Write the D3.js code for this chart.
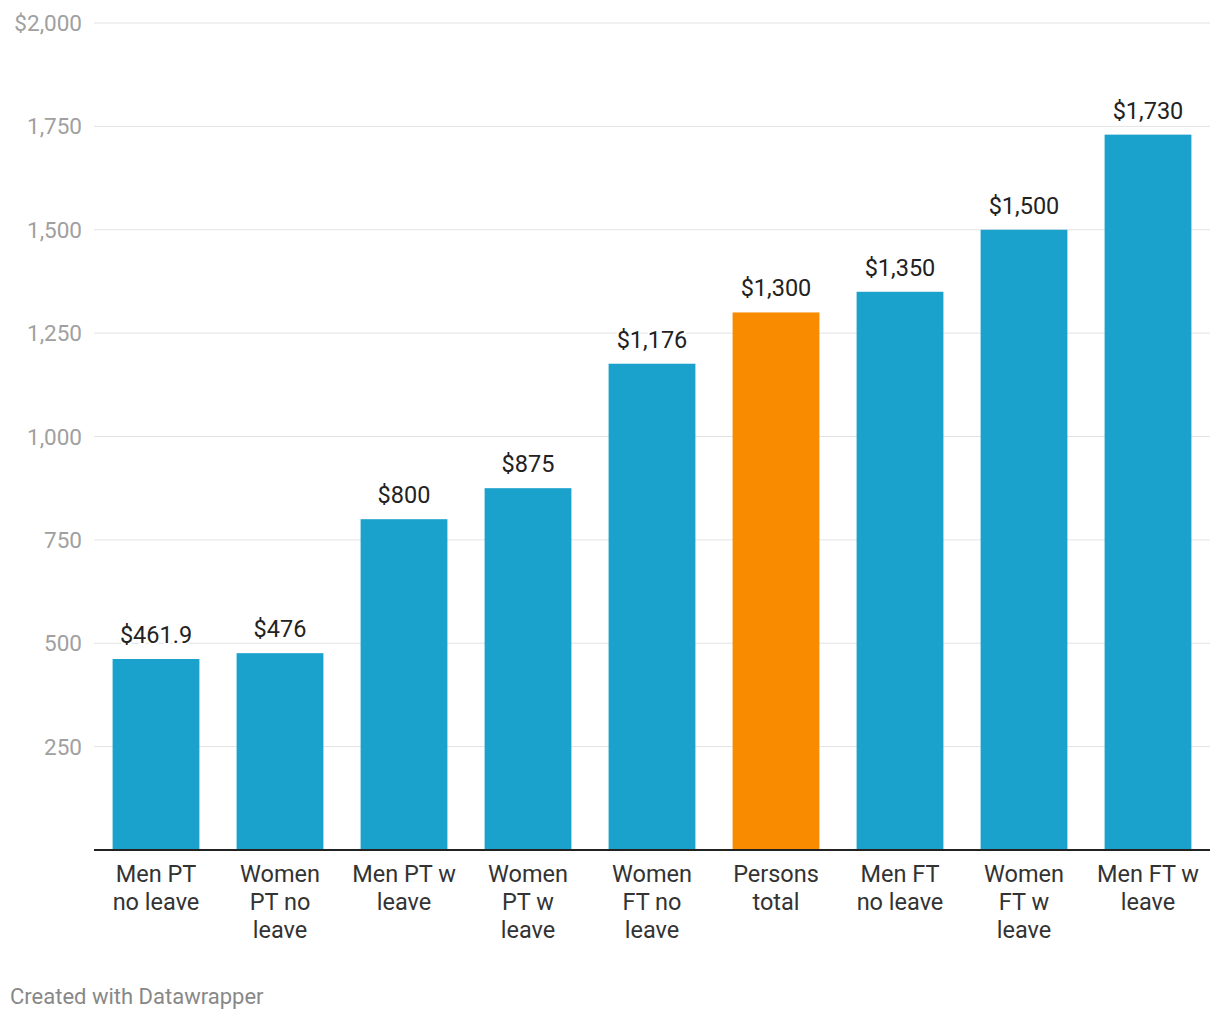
<!DOCTYPE html>
<html><head><meta charset="utf-8">
<script src="https://cdn.jsdelivr.net/npm/d3@7"></script>
<style>body{margin:0;background:#fff;font-family:Roboto,sans-serif;}</style>
</head><body>
<svg id="chart" width="1220" height="1020"></svg>
<script>
const categories = [["Men PT","no leave"],["Women","PT no","leave"],["Men PT w","leave"],["Women","PT w","leave"],["Women","FT no","leave"],["Persons","total"],["Men FT","no leave"],["Women","FT w","leave"],["Men FT w","leave"]];
const values = [461.9, 476, 800, 875, 1176, 1300, 1350, 1500, 1730];
const valueLabels = ["$461.9","$476","$800","$875","$1,176","$1,300","$1,350","$1,500","$1,730"];
const highlight = [false,false,false,false,false,true,false,false,false];
const yTicks = [0,250,500,750,1000,1250,1500,1750,2000];
const yTickLabels = ["","250","500","750","1,000","1,250","1,500","1,750","$2,000"];

(function(){
const svg = d3.select("#chart");
const mLeft = 94, mRight = 1210, mTop = 23, mBottom = 850;
const x = d3.scaleBand().domain(d3.range(values.length)).range([mLeft, mRight]).paddingInner(0.3).paddingOuter(0.15);
const y = d3.scaleLinear().domain([0, 2000]).range([mBottom, mTop]);

svg.append("g").selectAll("line").data(yTicks.slice(1)).join("line")
  .attr("x1", mLeft).attr("x2", mRight)
  .attr("y1", d => y(d)).attr("y2", d => y(d))
  .attr("stroke", "#e3e3e3").attr("stroke-width", 1);

svg.append("g").selectAll("text").data(yTicks.slice(1)).join("text")
  .attr("x", 82).attr("y", d => y(d) + 8)
  .attr("text-anchor", "end").attr("font-size", 22.5).attr("fill", "#a0a0a0")
  .text((d, i) => yTickLabels[i + 1]);

svg.append("g").selectAll("rect").data(values).join("rect")
  .attr("x", (d, i) => x(i)).attr("width", x.bandwidth())
  .attr("y", d => y(d)).attr("height", d => mBottom - y(d))
  .attr("fill", (d, i) => highlight[i] ? "#f88b00" : "#1aa1cc");

svg.append("g").selectAll("text").data(values).join("text")
  .attr("x", (d, i) => x(i) + x.bandwidth() / 2).attr("y", d => y(d) - 16)
  .attr("text-anchor", "middle").attr("font-size", 23.5).attr("fill", "#222")
  .attr("stroke", "#fff").attr("stroke-width", 4).attr("paint-order", "stroke")
  .text((d, i) => valueLabels[i]);

svg.append("line").attr("x1", mLeft).attr("x2", mRight).attr("y1", mBottom).attr("y2", mBottom)
  .attr("stroke", "#222").attr("stroke-width", 2);

const cl = svg.append("g").selectAll("text").data(categories).join("text")
  .attr("text-anchor", "middle").attr("font-size", 23.5).attr("fill", "#333");
cl.each(function(lines, i) {
  d3.select(this).selectAll("tspan").data(lines).join("tspan")
    .attr("x", x(i) + x.bandwidth() / 2)
    .attr("y", (l, j) => 882 + j * 28)
    .text(l => l);
});

svg.append("text").attr("x", 10).attr("y", 1004).attr("font-size", 22).attr("fill", "#888")
  .text("Created with Datawrapper");
})();
</script>
</body></html>
